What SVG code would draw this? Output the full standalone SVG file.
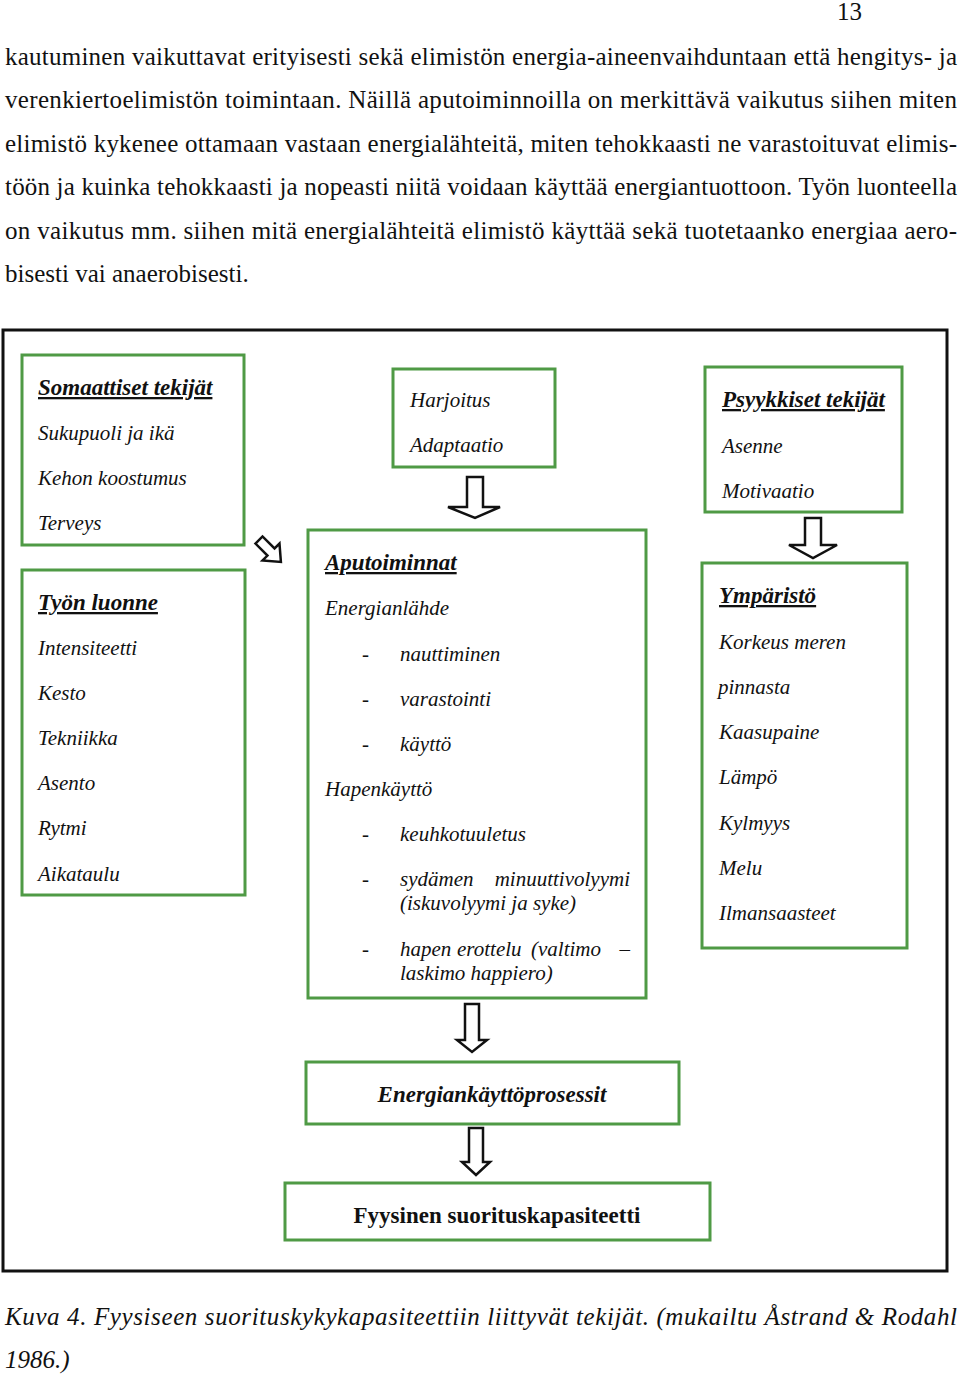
<svg xmlns="http://www.w3.org/2000/svg" width="960" height="1375" viewBox="0 0 960 1375">
<style>
.body{font-family:"Liberation Serif","Times New Roman",serif;font-size:25px;fill:#111}
.it{font-family:"Liberation Serif","Times New Roman",serif;font-size:21px;font-style:italic;fill:#111}
.ti{font-family:"Liberation Serif","Times New Roman",serif;font-size:23px;font-style:italic;font-weight:bold;text-decoration:underline;fill:#111}
.box{fill:#fff;stroke:#4f9a45;stroke-width:3}
.arr{fill:#fff;stroke:#111;stroke-width:2.5;stroke-linejoin:miter}
</style>
<rect width="960" height="1375" fill="#fff"/>
<g id="page-text">
<text class="body" x="837" y="20" font-size="24">13</text>
<text class="body" x="5" y="65" textLength="952" lengthAdjust="spacing">kautuminen vaikuttavat erityisesti sekä elimistön energia-aineenvaihduntaan että hengitys- ja</text>
<text class="body" x="5" y="108" textLength="952" lengthAdjust="spacing">verenkiertoelimistön toimintaan. Näillä aputoiminnoilla on merkittävä vaikutus siihen miten</text>
<text class="body" x="5" y="152" textLength="952" lengthAdjust="spacing">elimistö kykenee ottamaan vastaan energialähteitä, miten tehokkaasti ne varastoituvat elimis-</text>
<text class="body" x="5" y="195" textLength="952" lengthAdjust="spacing">töön ja kuinka tehokkaasti ja nopeasti niitä voidaan käyttää energiantuottoon. Työn luonteella</text>
<text class="body" x="5" y="239" textLength="952" lengthAdjust="spacing">on vaikutus mm. siihen mitä energialähteitä elimistö käyttää sekä tuotetaanko energiaa aero-</text>
<text class="body" x="5" y="282">bisesti vai anaerobisesti.</text>
<text class="body" x="5" y="1325" font-style="italic" textLength="952" lengthAdjust="spacing">Kuva 4. Fyysiseen suorituskykykapasiteettiin liittyvät tekijät. (mukailtu Åstrand &amp; Rodahl</text>
<text class="body" x="5" y="1368" font-style="italic">1986.)</text>
</g>
<rect id="frame" x="3" y="330" width="944" height="941" fill="none" stroke="#111" stroke-width="3"/>
<g id="somaattiset">
<rect class="box" x="22" y="355" width="222" height="190"/>
<text class="ti" x="38" y="395">Somaattiset tekijät</text>
<text class="it" x="38" y="440">Sukupuoli ja ikä</text>
<text class="it" x="38" y="485">Kehon koostumus</text>
<text class="it" x="38" y="530">Terveys</text>
</g>
<g id="harjoitus">
<rect class="box" x="393" y="369" width="162" height="98"/>
<text class="it" x="410" y="407">Harjoitus</text>
<text class="it" x="410" y="452">Adaptaatio</text>
</g>
<g id="psyykkiset">
<rect class="box" x="705" y="367" width="197" height="145"/>
<text class="ti" x="722" y="407">Psyykkiset tekijät</text>
<text class="it" x="722" y="453">Asenne</text>
<text class="it" x="722" y="498">Motivaatio</text>
</g>
<g id="tyon-luonne">
<rect class="box" x="22" y="570" width="223" height="325"/>
<text class="ti" x="38" y="610">Työn luonne</text>
<text class="it" x="38" y="655">Intensiteetti</text>
<text class="it" x="38" y="700">Kesto</text>
<text class="it" x="38" y="745">Tekniikka</text>
<text class="it" x="38" y="790">Asento</text>
<text class="it" x="38" y="835">Rytmi</text>
<text class="it" x="38" y="881">Aikataulu</text>
</g>
<g id="aputoiminnat">
<rect class="box" x="308" y="530" width="338" height="468"/>
<text class="ti" x="325" y="570">Aputoiminnat</text>
<text class="it" x="325" y="615">Energianlähde</text>
<text class="it" x="362" y="661">-</text><text class="it" x="400" y="661">nauttiminen</text>
<text class="it" x="362" y="706">-</text><text class="it" x="400" y="706">varastointi</text>
<text class="it" x="362" y="751">-</text><text class="it" x="400" y="751">käyttö</text>
<text class="it" x="325" y="796">Hapenkäyttö</text>
<text class="it" x="362" y="841">-</text><text class="it" x="400" y="841">keuhkotuuletus</text>
<text class="it" x="362" y="886">-</text><text class="it" x="400" y="886">sydämen</text><text class="it" x="630" y="886" text-anchor="end">minuuttivolyymi</text>
<text class="it" x="400" y="910">(iskuvolyymi ja syke)</text>
<text class="it" x="362" y="956">-</text><text class="it" x="400" y="956">hapen</text><text class="it" x="457" y="956">erottelu</text><text class="it" x="531" y="956">(valtimo</text><text class="it" x="630" y="956" text-anchor="end">–</text>
<text class="it" x="400" y="980">laskimo happiero)</text>
</g>
<g id="ymparisto">
<rect class="box" x="702" y="563" width="205" height="385"/>
<text class="ti" x="719" y="603">Ympäristö</text>
<text class="it" x="719" y="649">Korkeus meren</text>
<text class="it" x="718" y="694">pinnasta</text>
<text class="it" x="719" y="739">Kaasupaine</text>
<text class="it" x="719" y="784">Lämpö</text>
<text class="it" x="719" y="830">Kylmyys</text>
<text class="it" x="719" y="875">Melu</text>
<text class="it" x="719" y="920">Ilmansaasteet</text>
</g>
<g id="energiankaytto">
<rect class="box" x="306" y="1062" width="373" height="62"/>
<text class="ti" x="492" y="1102" text-anchor="middle" style="text-decoration:none">Energiankäyttöprosessit</text>
</g>
<g id="fyysinen">
<rect class="box" x="285" y="1183" width="425" height="57"/>
<text x="497" y="1223" text-anchor="middle" font-family="Liberation Serif, Times New Roman, serif" font-size="23" font-weight="bold" fill="#111">Fyysinen suorituskapasiteetti</text>
</g>
<g id="connectors">
<path class="arr" d="M467,477 L483,477 L483,507 L500,507 L475,518 L448,507 L467,507 Z"/>
<path class="arr" d="M805,518 L821,518 L821,545 L837,545 L813,558 L789,545 L805,545 Z"/>
<path class="arr" d="M465,1004 L479,1004 L479,1040 L487,1040 L472,1052 L457,1040 L465,1040 Z"/>
<path class="arr" d="M469,1128 L483,1128 L483,1162 L490,1162 L476,1175 L462,1162 L469,1162 Z"/>
<path class="arr" transform="translate(271,552) rotate(-45)" d="M-5,-17 L5,-17 L5,0 L12,0 L0,14 L-12,0 L-5,0 Z"/>
</g>
</svg>
